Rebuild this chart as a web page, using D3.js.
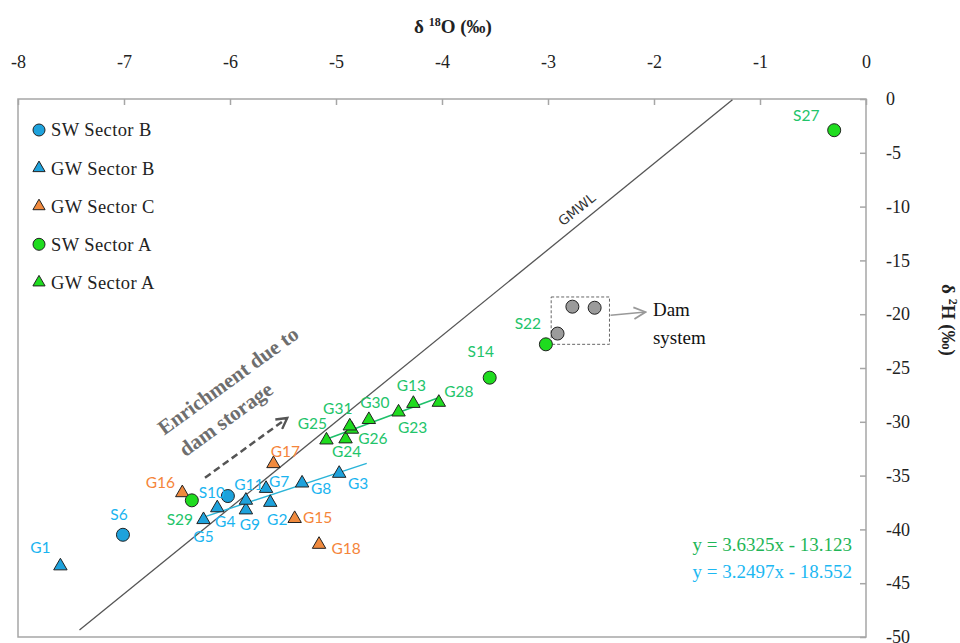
<!DOCTYPE html>
<html>
<head>
<meta charset="utf-8">
<script src="https://cdn.jsdelivr.net/npm/d3@7"></script>
<style>
  body { margin: 0; background: #fff; }
  svg { display: block; }
</style>
</head>
<body>
<svg id="chart"></svg>
<script>
// values: x = δ18O, y = δ2H
const swSectorB = [
    { id: "S6",  x: -7.01, y: -40.5 },
    { id: "S10", x: -6.02, y: -36.9 }
];
const gwSectorB = [
    { id: "G1",  x: -7.60, y: -43.4 },
    { id: "G5",  x: -6.25, y: -39.1 },
    { id: "G4",  x: -6.12, y: -38.0 },
    { id: "G9",  x: -5.85, y: -38.2 },
    { id: "G11", x: -5.85, y: -37.3 },
    { id: "G7",  x: -5.66, y: -36.2 },
    { id: "G2",  x: -5.62, y: -37.5 },
    { id: "G8",  x: -5.32, y: -35.7 },
    { id: "G3",  x: -4.97, y: -34.8 }
];
const gwSectorC = [
    { id: "G16", x: -6.45, y: -36.6 },
    { id: "G17", x: -5.59, y: -33.9 },
    { id: "G15", x: -5.39, y: -39.0 },
    { id: "G18", x: -5.16, y: -41.4 }
];
const swSectorA = [
    { id: "S29", x: -6.36, y: -37.3 },
    { id: "S14", x: -3.55, y: -25.9 },
    { id: "S22", x: -3.02, y: -22.8 },
    { id: "S27", x: -0.30, y: -2.9 }
];
const gwSectorA = [
    { id: "G25", x: -5.09, y: -31.7 },
    { id: "G24", x: -4.91, y: -31.6 },
    { id: "G26", x: -4.85, y: -30.7 },
    { id: "G31", x: -4.87, y: -30.4 },
    { id: "G30", x: -4.69, y: -29.8 },
    { id: "G23", x: -4.41, y: -29.1 },
    { id: "G13", x: -4.27, y: -28.3 },
    { id: "G28", x: -4.03, y: -28.2 }
];
const damSystem = [
    { x: -2.91, y: -21.8 },
    { x: -2.77, y: -19.3 },
    { x: -2.56, y: -19.4 }
];

const xTicks = [-8, -7, -6, -5, -4, -3, -2, -1, 0];
const yTicks = [0, -5, -10, -15, -20, -25, -30, -35, -40, -45, -50];

// regression lines shown in the figure
const fitA = { slope: 3.6325, intercept: -13.123, from: -5.06, to: -4.04, label: "y = 3.6325x - 13.123" };
const fitB = { slope: 3.2497, intercept: -18.552, from: -6.27, to: -4.71, label: "y = 3.2497x - 18.552" };
const gmwl = { slope: 8, intercept: 10, from: -7.42, to: -1.26 };

// label offsets (px) from each marker
const labelOffsets = {
    S6: [-4, -20], S10: [-16, -3], G1: [-20, -18], G5: [0, 17], G4: [8, 14],
    G9: [4, 15], G11: [3, -16], G7: [13, -7], G2: [7, 17], G8: [19, 5], G3: [19, 10],
    G16: [-22, -10], G17: [12, -12], G15: [23, -1], G18: [27, 4],
    S29: [-12, 19], S14: [-9, -26], S22: [-18, -21], S27: [-28, -15],
    G25: [-14, -17], G24: [1, 13], G26: [21, 9], G31: [-12, -18], G30: [6, -17],
    G23: [14, 15], G13: [-2, -18], G28: [20, -11]
};

const W = 960, H = 643;
const serif = "'Liberation Serif', 'Times New Roman', serif";
const sans = "Lato, 'Open Sans', sans-serif";

const blue = "#1ea2dc", orange = "#f08a3e", green = "#1fdc1f", grey = "#9b9b9b";
const blueText = "#1ab4f0", orangeText = "#f5853a", greenText = "#22c46a";

const svg = d3.select("#chart").attr("width", W).attr("height", H);

const x = d3.scaleLinear().domain([-8, 0]).range([18, 866]);
const y = d3.scaleLinear().domain([-50, 0]).range([637, 99]);

// frame
svg.append("rect")
    .attr("x", x(-8)).attr("y", y(0))
    .attr("width", x(0) - x(-8)).attr("height", y(-50) - y(0))
    .attr("fill", "none").attr("stroke", "#a6a6a6").attr("stroke-width", 1.5);

// top axis
const xAxis = svg.append("g")
    .attr("transform", `translate(0,${y(0)})`)
    .call(d3.axisTop(x).tickValues(xTicks).tickSize(-6).tickPadding(31).tickFormat(d => String(d)));
xAxis.select(".domain").remove();

// right axis
const yAxis = svg.append("g")
    .attr("transform", `translate(${x(0)},0)`)
    .call(d3.axisRight(y).tickValues(yTicks).tickSize(-6).tickPadding(20).tickFormat(d => String(d)));
yAxis.select(".domain").remove();

svg.selectAll(".tick line").attr("stroke", "#a6a6a6").attr("stroke-width", 1.5);
svg.selectAll(".tick text")
    .style("font-family", serif).style("font-size", "18px").attr("fill", "#222");

// axis titles
const xTitle = svg.append("text")
    .attr("x", 453).attr("y", 33)
    .attr("text-anchor", "middle")
    .style("font-family", serif).style("font-size", "19px").style("font-weight", "bold")
    .attr("fill", "#222");
xTitle.append("tspan").text("δ ");
xTitle.append("tspan").text("18").style("font-size", "12px").attr("dy", -7);
xTitle.append("tspan").text("O (‰)").attr("dy", 7);

const yTitle = svg.append("text")
    .attr("transform", "translate(942,320) rotate(90)")
    .attr("text-anchor", "middle")
    .style("font-family", serif).style("font-size", "19px").style("font-weight", "bold")
    .attr("fill", "#222");
yTitle.append("tspan").text("δ ");
yTitle.append("tspan").text("2").style("font-size", "12px").attr("dy", -7);
yTitle.append("tspan").text("H (‰)").attr("dy", 7);

// lines
function drawLine(f, color, width) {
    svg.append("line")
        .attr("x1", x(f.from)).attr("y1", y(f.slope * f.from + f.intercept))
        .attr("x2", x(f.to)).attr("y2", y(f.slope * f.to + f.intercept))
        .attr("stroke", color).attr("stroke-width", width);
}
drawLine(gmwl, "#555", 1.3);
drawLine(fitB, "#2ab4d8", 1.4);
drawLine(fitA, "#1ec06a", 1.6);

// GMWL label
const gmwlAngle = Math.atan2(y(gmwl.slope * -3 + gmwl.intercept) - y(gmwl.slope * -2 + gmwl.intercept), x(-2) - x(-3)) * 180 / Math.PI;
svg.append("text")
    .attr("transform", `translate(${x(-2.70)},${y(-10.6)}) rotate(${-Math.abs(gmwlAngle)})`)
    .attr("text-anchor", "middle")
    .style("font-family", "'DejaVu Sans', sans-serif").style("font-size", "13.5px")
    .attr("fill", "#333")
    .text("GMWL");

// arrow heads
const defs = svg.append("defs");
defs.append("marker")
    .attr("id", "greyHead").attr("viewBox", "0 0 12 12")
    .attr("refX", 11).attr("refY", 6).attr("markerWidth", 14).attr("markerHeight", 14)
    .attr("orient", "auto").attr("markerUnits", "userSpaceOnUse")
    .append("path").attr("d", "M1,1 L11,6 L1,11").attr("fill", "none")
    .attr("stroke", "#999").attr("stroke-width", 1.5);
defs.append("marker")
    .attr("id", "darkHead").attr("viewBox", "0 0 12 12")
    .attr("refX", 10).attr("refY", 6).attr("markerWidth", 14).attr("markerHeight", 14)
    .attr("orient", "auto").attr("markerUnits", "userSpaceOnUse")
    .append("path").attr("d", "M1,1 L10,6 L1,11").attr("fill", "none")
    .attr("stroke", "#555").attr("stroke-width", 2);

// dam system box and arrow
svg.append("rect")
    .attr("x", x(-2.97)).attr("y", y(-18.4))
    .attr("width", x(-2.42) - x(-2.97)).attr("height", y(-22.8) - y(-18.4))
    .attr("fill", "none").attr("stroke", "#666").attr("stroke-width", 1)
    .attr("stroke-dasharray", "3,2");

svg.append("line")
    .attr("x1", x(-2.41)).attr("y1", y(-20.1))
    .attr("x2", x(-2.08)).attr("y2", y(-19.8))
    .attr("stroke", "#999").attr("stroke-width", 1.5)
    .attr("marker-end", "url(#greyHead)");

const damText = svg.append("text")
    .style("font-family", serif).style("font-size", "19px").attr("fill", "#111");
damText.append("tspan").attr("x", x(-2.01)).attr("y", y(-20.2)).text("Dam");
damText.append("tspan").attr("x", x(-2.01)).attr("y", y(-22.8)).text("system");

// enrichment annotation
svg.append("line")
    .attr("x1", x(-6.236)).attr("y1", y(-35.2))
    .attr("x2", x(-5.46)).attr("y2", y(-29.65))
    .attr("stroke", "#555").attr("stroke-width", 2.5)
    .attr("stroke-dasharray", "7,4")
    .attr("marker-end", "url(#darkHead)");

const enrAngle = -36;
const enr = svg.append("g")
    .style("font-family", serif).style("font-size", "21px").style("font-weight", "bold")
    .attr("fill", "#6e6e6e");
enr.append("text")
    .attr("transform", `translate(${x(-6.62)},${y(-31.3)}) rotate(${enrAngle})`)
    .text("Enrichment due to");
enr.append("text")
    .attr("transform", `translate(${x(-6.42)},${y(-33.3)}) rotate(${enrAngle})`)
    .text("dam storage");

// markers
const tri = d3.symbol().type(d3.symbolTriangle).size(78);
function drawCircles(data, fill) {
    svg.append("g").selectAll("circle").data(data).join("circle")
        .attr("cx", d => x(d.x)).attr("cy", d => y(d.y)).attr("r", 6.5)
        .attr("fill", fill).attr("stroke", "#222").attr("stroke-width", 1);
}
function drawTriangles(data, fill) {
    svg.append("g").selectAll("path").data(data).join("path")
        .attr("d", tri)
        .attr("transform", d => `translate(${x(d.x)},${y(d.y)})`)
        .attr("fill", fill).attr("stroke", "#222").attr("stroke-width", 1);
}
drawCircles(damSystem, grey);
drawTriangles(gwSectorC, orange);
drawTriangles(gwSectorB, blue);
drawCircles(swSectorB, blue);
drawTriangles(gwSectorA, green);
drawCircles(swSectorA, green);

// point labels
function drawLabels(data, color) {
    svg.append("g").selectAll("text").data(data).join("text")
        .attr("x", d => x(d.x) + labelOffsets[d.id][0])
        .attr("y", d => y(d.y) + labelOffsets[d.id][1])
        .attr("dy", "0.35em")
        .attr("text-anchor", "middle")
        .style("font-family", sans).style("font-size", "15.5px")
        .attr("fill", color)
        .text(d => d.id);
}
drawLabels(swSectorB, blueText);
drawLabels(gwSectorB, blueText);
drawLabels(gwSectorC, orangeText);
drawLabels(swSectorA, greenText);
drawLabels(gwSectorA, greenText);

// legend
const legendItems = [
    { name: "SW Sector B", shape: "circle", fill: blue },
    { name: "GW Sector B", shape: "triangle", fill: blue },
    { name: "GW Sector C", shape: "triangle", fill: orange },
    { name: "SW Sector A", shape: "circle", fill: green },
    { name: "GW Sector A", shape: "triangle", fill: green }
];
const legend = svg.append("g").attr("transform", "translate(39,130)");
const li = legend.selectAll("g").data(legendItems).join("g")
    .attr("transform", (d, i) => `translate(0,${i * 38.1})`);
li.filter(d => d.shape === "circle").append("circle")
    .attr("r", 6).attr("fill", d => d.fill).attr("stroke", "#222").attr("stroke-width", 1);
li.filter(d => d.shape === "triangle").append("path")
    .attr("d", d3.symbol().type(d3.symbolTriangle).size(64))
    .attr("fill", d => d.fill).attr("stroke", "#222").attr("stroke-width", 1);
li.append("text")
    .attr("x", 12).attr("dy", "0.35em")
    .style("font-family", serif).style("font-size", "18.5px").attr("fill", "#222")
    .style("letter-spacing", "0.4px")
    .text(d => d.name);

// equations
const eq = svg.append("g")
    .attr("text-anchor", "end")
    .style("font-family", serif).style("font-size", "19px");
eq.append("text").attr("x", 852).attr("y", 551).attr("fill", "#1fb657").text(fitA.label);
eq.append("text").attr("x", 852).attr("y", 578).attr("fill", "#1cb8f2").text(fitB.label);
</script>
</body>
</html>
